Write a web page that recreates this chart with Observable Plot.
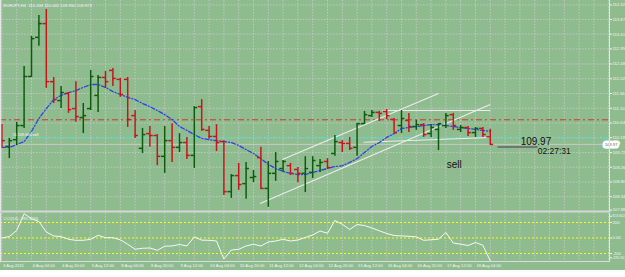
<!DOCTYPE html>
<html><head><meta charset="utf-8">
<script src="https://cdn.jsdelivr.net/npm/d3@7"></script>
<script src="https://cdn.jsdelivr.net/npm/@observablehq/plot@0.6"></script>
<style>
html,body{margin:0;padding:0;background:#fff;}
#wrap{width:625px;height:277px;background:#fff;overflow:hidden;}
#wrap svg{display:block}
</style></head><body><div id="wrap"></div>
<script>
// ---------- data ----------
const headerText = "EURJPY,H4  110.208 110.442 109.950 109.973";
const orderLabel = "#1 109.605 sell";
const cciLabel = "CCI(14) -295.9015";

const opens = [110.53,109.91,110.12,110.56,112.09,113.31,113.74,111.93,111.34,111.56,111.09,110.81,111.09,111.50,112.06,112.28,112.00,112.00,110.87,109.85,110.31,110.25,109.60,110.09,109.88,110.03,109.63,111.15,110.41,110.22,110.06,108.50,109.00,108.75,108.94,109.56,108.60,109.07,109.22,109.31,109.19,109.07,109.10,109.31,109.44,109.69,110.03,110.00,109.88,110.62,110.87,110.97,111.00,110.75,110.56,110.72,110.53,110.59,110.31,110.44,110.56,110.90,110.44,110.50,110.34,110.47,110.208];
const highs = [110.59,110.16,110.66,112.40,113.34,113.99,114.18,112.06,111.78,111.59,111.93,111.25,112.28,112.12,112.25,112.34,112.03,112.06,111.03,110.47,110.53,110.28,110.53,110.62,110.31,110.19,111.15,111.37,110.53,110.59,110.09,109.03,109.38,109.41,109.16,109.88,109.44,109.72,109.47,109.38,109.25,109.59,109.59,109.50,109.53,110.25,110.09,110.19,110.62,111.00,111.03,111.00,111.06,110.78,111.03,110.94,110.72,110.62,110.59,110.62,110.94,110.94,110.56,110.53,110.50,110.50,110.442];
const lows = [109.85,109.53,109.94,110.47,112.06,113.03,111.72,111.25,111.09,110.94,110.66,110.31,111.03,110.97,111.72,111.78,111.44,110.50,110.16,109.69,109.88,109.31,109.07,109.41,109.72,109.50,109.22,110.38,110.13,109.75,108.38,108.29,108.54,108.26,108.78,108.57,108.01,108.82,109.10,109.00,108.78,108.47,108.91,109.10,109.19,109.60,109.72,109.78,109.60,110.59,110.81,110.69,110.75,110.34,110.31,110.34,110.41,110.19,110.19,109.78,110.47,110.41,110.34,110.22,110.19,110.19,109.950];
const closes = [110.09,110.09,110.56,112.09,113.27,113.74,111.93,111.37,111.59,111.06,110.84,110.87,112.09,112.06,111.93,112.03,111.53,110.75,110.25,110.28,110.25,109.60,110.09,109.88,110.03,109.63,111.12,110.44,110.22,110.03,108.50,109.00,108.72,109.22,108.97,108.60,109.07,109.44,109.44,109.07,109.07,109.22,109.47,109.41,109.25,110.06,110.00,109.85,110.62,110.90,110.97,110.94,110.87,110.34,110.78,110.53,110.59,110.28,110.50,110.62,110.87,110.56,110.50,110.34,110.47,110.28,109.973];
const maValues = [109.88,109.88,109.97,110.06,110.38,110.78,111.09,111.37,111.50,111.59,111.65,111.75,111.84,111.84,111.75,111.62,111.53,111.44,111.37,111.25,111.15,111.03,110.90,110.75,110.53,110.41,110.28,110.16,110.12,110.09,110.06,110.03,109.94,109.81,109.69,109.53,109.35,109.22,109.13,109.07,109.03,109.03,109.10,109.16,109.22,109.28,109.31,109.41,109.53,109.72,109.91,110.03,110.19,110.31,110.47,110.50,110.53,110.56,110.59,110.59,110.56,110.53,110.50,110.47,110.44,110.41,110.38];
const cciValues = [0,19,97,313.6,249,213,77,26,18,-17,-30,-30,-17,35,4,4,-23,-81,-145,-133,-129,-159,-106,-103,-84,-103,15,-28,-30,-39,-271,-155,-146,-103,-81,-103,-52,-39,-17,-39,-26,6,39,90,61,226,177,110,174,161,129,93,58,32,26,22,15,-30,-23,-15,71,-65,-80,-97,-58,-94,-295.9];

const priceTicks = [114.32,113.87,113.41,112.95,112.48,112.02,111.56,111.10,110.64,110.18,109.72,109.26,108.80,108.34];
const priceBottomTick = [107.88];
const cciTicksMid = [200,0,-200];
const cciTickLabels = ["200","0.00","-200"];
const cciMax = [313.602];
const cciMin = [-295.9];
const cciLevels = [200,0,-200];

const timeIndex = [0,4,8,12,16,20,24,28,32,36,40,44,48,52,56,60,64];
const timeLabels = ["3 Aug 2011","4 Aug 04:00","4 Aug 20:00","5 Aug 12:00","8 Aug 04:00","8 Aug 20:00","9 Aug 12:00","10 Aug 04:00","10 Aug 20:00","11 Aug 12:00","12 Aug 04:00","12 Aug 20:00","15 Aug 12:00","16 Aug 04:00","16 Aug 20:00","17 Aug 12:00","18 Aug 04:00"];

const stopLevel = 110.74;
const orderLevel = 110.18;
const bidLevel = 109.973;

// trend lines: [index1, price1, index2, price2]
const trendLines = [
  [37.9,109.50,59.0,111.56],
  [34.9,108.13,66.0,111.22],
  [51.4,111.03,66.0,111.03],
  [48.9,110.04,66.0,110.19]
];
const annoText = ["sell","109.97","02:27:31"];
const annoIndex = [60.1,70.1,72.4];
const annoPrice = [109.33,110.06,109.75];
const timerLine = [66.97,72.38,109.89];

// ---------- drawing ----------
const UP = "#0d5c0d", DOWN = "#c4161c";
const bars = opens.map((o,i)=>({i, o, h:highs[i], l:lows[i], c:closes[i]}));
const ups = bars.filter(d=>d.c>=d.o), downs = bars.filter(d=>d.c<d.o);
function barMarks(data, color){
  return [
    Plot.ruleX(data,{x:"i",y1:"l",y2:"h",stroke:color,strokeWidth:1.5}),
    Plot.ruleY(data,{y:"o",x1:d=>d.i-0.45,x2:"i",stroke:color,strokeWidth:1.5}),
    Plot.ruleY(data,{y:"c",x1:"i",x2:d=>d.i+0.45,stroke:color,strokeWidth:1.5})
  ];
}
const gridIdx = d3.range(0,83,2);
const GRID = "#cbcbcb";
const FONT = "'Liberation Sans', Arial, sans-serif";
const xOpt = {domain:[-0.19,82.11], axis:null};
const tickMap = new Map(cciTicksMid.map((t,i)=>[t,cciTickLabels[i]]));
const axisOpt = {anchor:"right",tickSize:2,tickPadding:1,fontSize:4.2,label:null};
const axisSmall = {anchor:"right",tickSize:2,tickPadding:0.5,fontSize:3.6,label:null};

const main = Plot.plot({
  width:625, height:213, marginLeft:0, marginRight:16, marginTop:0, marginBottom:2,
  style:{background:"#8fbc8f", color:"#f4f4f4", fontFamily:FONT, overflow:"visible"},
  x:xOpt,
  y:{domain:[107.88,114.46], axis:null},
  marks:[
    Plot.ruleX(gridIdx,{x:d=>d,stroke:GRID,strokeDasharray:"1.5,1.5",strokeWidth:0.8}),
    Plot.ruleY(priceTicks,{y:d=>d,stroke:GRID,strokeDasharray:"1.5,1.5",strokeWidth:0.8}),
    Plot.ruleY([bidLevel],{y:d=>d,stroke:"#c9c9c9",strokeWidth:1}),
    Plot.ruleY([stopLevel],{y:d=>d,stroke:"#d2382a",strokeDasharray:"6,3,2,3",strokeWidth:1}),
    Plot.ruleY([orderLevel],{y:d=>d,stroke:"#3fe0d8",strokeDasharray:"6,3,2,3",strokeWidth:1}),
    Plot.link(trendLines,{x1:d=>d[0],y1:d=>d[1],x2:d=>d[2],y2:d=>d[3],stroke:"#ececec",strokeWidth:1.1}),
    Plot.line(maValues,{x:(d,i)=>i,y:d=>d,stroke:"#2e40e6",strokeWidth:1.3,strokeDasharray:"4,2,1,2"}),
    ...barMarks(ups,UP),
    ...barMarks(downs,DOWN),
    Plot.link([timerLine],{x1:d=>d[0],x2:d=>d[1],y1:d=>d[2],y2:d=>d[2],stroke:"#6f786f",strokeWidth:2}),
    Plot.text(annoText,{x:(d,i)=>annoIndex[i],y:(d,i)=>annoPrice[i],text:d=>d,textAnchor:"start",fill:"#111",
      fontSize:(d,i)=>i===2?8.5:10}),
    Plot.text([orderLabel],{x:1.43,y:110.28,text:d=>d,textAnchor:"start",fill:"#fff",fontSize:3.8}),
    Plot.text([headerText],{frameAnchor:"top-left",dx:3,dy:4,text:d=>d,textAnchor:"start",fill:"#f4f4f4",fontSize:4.2}),
    Plot.axisY(priceTicks,{...axisOpt,tickFormat:d=>d.toFixed(2)}),
    Plot.axisY(priceBottomTick,{...axisOpt,dy:-1.5,tickFormat:d=>d.toFixed(2)}),
    Plot.text([bidLevel],{y:d=>d,frameAnchor:"right",dx:8,text:d=>d.toFixed(2),fill:"#666",stroke:"#fff",strokeWidth:5,paintOrder:"stroke",fontSize:4.2}),
    Plot.frame({anchor:"right",stroke:"#e6e6e6",strokeWidth:1}),
    Plot.frame({anchor:"left",stroke:"#e6e6e6",strokeWidth:1.5}),
    Plot.frame({anchor:"bottom",stroke:"#d6d6d6",strokeWidth:2})
  ]
});

const ind = Plot.plot({
  width:625, height:57, marginLeft:0, marginRight:16, marginTop:0, marginBottom:9,
  style:{background:"#8fbc8f", color:"#f4f4f4", fontFamily:FONT, overflow:"visible"},
  x:xOpt,
  y:{domain:[-303.6,316.2], axis:null},
  marks:[
    Plot.ruleX(gridIdx,{x:d=>d,stroke:GRID,strokeDasharray:"1.5,1.5",strokeWidth:0.8}),
    Plot.ruleY(cciLevels,{y:d=>d,stroke:"#ffff00",strokeDasharray:"2,2",strokeWidth:1}),
    Plot.line(cciValues,{x:(d,i)=>i,y:d=>d,stroke:"#ffffff",strokeWidth:0.9}),
    Plot.text([cciLabel],{frameAnchor:"top-left",dx:3,dy:4,text:d=>d,textAnchor:"start",fill:"#f4f4f4",fontSize:4.2}),
    Plot.axisY(cciTicksMid,{...axisOpt,tickFormat:d=>tickMap.get(d)}),
    Plot.axisY(cciMax,{...axisSmall,dy:2.5,tickFormat:d=>d.toFixed(3)}),
    Plot.axisY(cciMin,{...axisSmall,dy:-3,tickFormat:d=>d.toFixed(2)}),
    Plot.text(timeIndex,{x:d=>d,text:(d,i)=>timeLabels[i],frameAnchor:"bottom",dy:5,dx:1,textAnchor:"start",fill:"#f4f4f4",fontSize:4.2}),
    Plot.frame({anchor:"right",stroke:"#e6e6e6",strokeWidth:1}),
    Plot.frame({anchor:"left",stroke:"#e6e6e6",strokeWidth:1.5}),
    Plot.frame({anchor:"bottom",stroke:"#dcdcdc",strokeWidth:1})
  ]
});

const wrap = document.getElementById("wrap");
wrap.appendChild(main);
wrap.appendChild(ind);
</script></body></html>
